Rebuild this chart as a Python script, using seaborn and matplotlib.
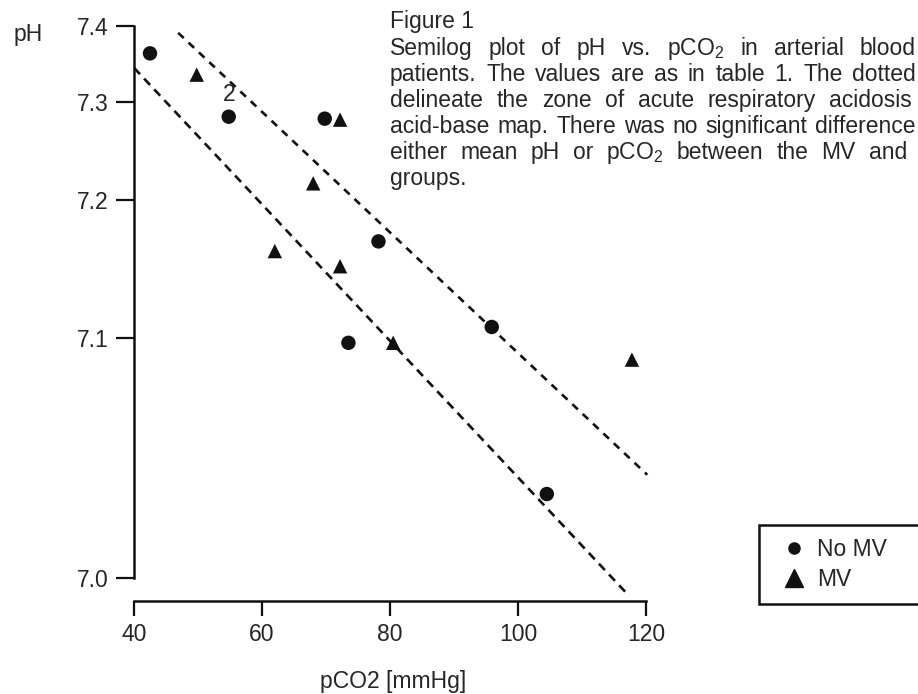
import numpy as np
import pandas as pd
import seaborn as sns
import matplotlib
matplotlib.use("Agg")
import matplotlib.pyplot as plt
from matplotlib.lines import Line2D

# Data (pCO2 in mmHg, arterial pH)
no_mv_pco2 = [42.5, 54.8, 69.8, 73.5, 78.2, 95.9, 104.5]
no_mv_ph = [7.364, 7.285, 7.283, 7.098, 7.170, 7.108, 7.035]
mv_pco2 = [49.8, 62.0, 68.0, 72.2, 72.2, 80.5, 117.8]
mv_ph = [7.336, 7.163, 7.217, 7.282, 7.152, 7.098, 7.091]

# dotted lines bounding the acute respiratory acidosis zone
zone_low_pco2 = [40.0, 117.2]
zone_low_ph = [7.345, 6.993]
zone_high_pco2 = [46.9, 120.2]
zone_high_ph = [7.391, 7.043]

ph_ticks = [7.0, 7.1, 7.2, 7.3, 7.4]
ph_labels = ["7.0", "7.1", "7.2", "7.3", "7.4"]
pco2_ticks = [40, 60, 80, 100, 120]
groups = ["No MV", "MV"]

caption = [
    "Semilog plot of pH vs. pCO$_2$ in arterial blood",
    "patients. The values are as in table 1. The dotted",
    "delineate the zone of acute respiratory acidosis",
    "acid-base map. There was no significant difference",
    "either mean pH or pCO$_2$ between the MV and",
    "groups.",
]
# right edge (px) of each justified caption line, None = ragged
caption_right = [916, 916, 912, 916, 907, None]

# the printed pH axis is stretched unevenly (semilog), so map the ticks
# piecewise onto the drawing height
scale_ph = np.array(ph_ticks)
scale_pos = np.array([0.0, 240.0, 378.0, 476.0, 552.0])


def _pw(v, xp, fp):
    v = np.asarray(v, dtype=float)
    lo = fp[0] + (v - xp[0]) * (fp[1] - fp[0]) / (xp[1] - xp[0])
    hi = fp[-1] + (v - xp[-1]) * (fp[-1] - fp[-2]) / (xp[-1] - xp[-2])
    return np.where(v < xp[0], lo, np.where(v > xp[-1], hi, np.interp(v, xp, fp)))


def fwd(v):
    return _pw(v, scale_ph, scale_pos)


def inv(v):
    return _pw(v, scale_pos, scale_ph)


df = pd.DataFrame({
    "pCO2": no_mv_pco2 + mv_pco2,
    "pH": no_mv_ph + mv_ph,
    "group": [groups[0]] * len(no_mv_pco2) + [groups[1]] * len(mv_pco2),
})

sns.set_style("ticks")
plt.rcParams["font.family"] = ["Liberation Sans", "DejaVu Sans"]
plt.rcParams["mathtext.fontset"] = "custom"
plt.rcParams["mathtext.rm"] = "Liberation Sans"
plt.rcParams["mathtext.default"] = "regular"

ink = "#111111"
fs = 16.5
W, H = 918, 694

fig = plt.figure(figsize=(W / 100, H / 100), dpi=100)
ax = fig.add_axes([134 / W, 1 - 601 / H, 518.4 / W, 590.2 / H])
ax.set_yscale("function", functions=(fwd, inv))

sns.scatterplot(data=df, x="pCO2", y="pH", hue="group", style="group",
                hue_order=groups, style_order=groups,
                markers={"No MV": "o", "MV": "^"},
                palette={"No MV": ink, "MV": ink},
                s=108, edgecolor="none", legend=False, ax=ax)

ax.plot(zone_low_pco2, zone_low_ph, color=ink, lw=1.9, dashes=(3.3, 2.3))
ax.plot(zone_high_pco2, zone_high_ph, color=ink, lw=1.9, dashes=(2.9, 2.5))

# two coincident patients
ax.annotate("2", xy=(no_mv_pco2[1], no_mv_ph[1]), xytext=(0, 16),
            textcoords="offset points", ha="center", va="center", fontsize=fs)

ax.set_xlim(40, 121)
ax.set_ylim(6.99042, 7.42)
ax.set_xticks(pco2_ticks)
ax.set_yticks(ph_ticks)
ax.set_yticklabels(ph_labels)
ax.set_xlabel("pCO2 [mmHg]", fontsize=fs, labelpad=17)
ax.set_ylabel("")

sns.despine(ax=ax)
ax.spines["left"].set_bounds(7.0, 7.4)
ax.spines["bottom"].set_bounds(40, 120)
for side in ["left", "bottom"]:
    ax.spines[side].set_linewidth(1.8)
    ax.spines[side].set_color(ink)
ax.tick_params(axis="y", length=13, width=1.6, pad=5, labelsize=fs, color=ink)
ax.tick_params(axis="x", length=11, width=1.6, pad=5, labelsize=fs, color=ink)

fig.text(28 / W, 1 - 35 / H, "pH", fontsize=fs, ha="center", va="center")

# caption, justified word by word like the printed page
renderer = fig.canvas.get_renderer()
left = 390
fig.text(left / W, 1 - 28 / H, "Figure 1", fontsize=fs, va="baseline")
for i, (line, right) in enumerate(zip(caption, caption_right)):
    y = 1 - (55 + 26 * i) / H
    words = line.split(" ")
    if right is None or len(words) == 1:
        fig.text(left / W, y, line, fontsize=fs, va="baseline")
        continue
    texts = [fig.text(0, y, w, fontsize=fs, va="baseline") for w in words]
    widths = [t.get_window_extent(renderer).width for t in texts]
    gap = (right - left - sum(widths)) / (len(words) - 1)
    x = left
    for t, w in zip(texts, widths):
        t.set_x(x / W)
        x += w + gap

handles = [
    Line2D([], [], ls="none", marker="o", color=ink, markersize=8),
    Line2D([], [], ls="none", marker="^", color=ink, markersize=13),
]
leg = fig.legend(handles, groups, loc="upper left",
                 bbox_to_anchor=(759 / W, 1 - 525 / H, 180 / W, 0),
                 mode="expand", fontsize=fs, frameon=True, fancybox=False,
                 edgecolor=ink, framealpha=1, borderpad=0.58, labelspacing=0.28,
                 handlelength=1.9, handletextpad=0.05, borderaxespad=0)
leg.get_frame().set_linewidth(1.8)

fig.savefig("out.png", dpi=100)
